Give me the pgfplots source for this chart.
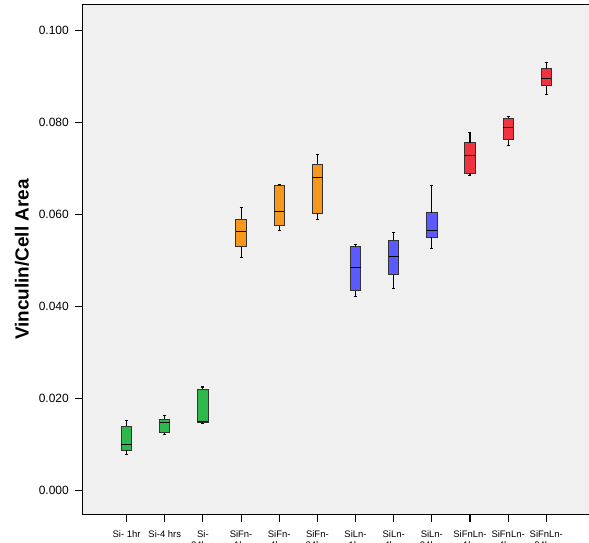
\documentclass[border=0pt]{standalone}
\usepackage{pgfplots}
\pgfplotsset{compat=1.18}
\usepackage{fontspec}
\setmainfont{Liberation Sans}
\definecolor{bgray}{HTML}{F0F0F0}
\definecolor{cgreen}{HTML}{2DB84B}
\definecolor{corange}{HTML}{F7981D}
\definecolor{cblue}{HTML}{5A5AFF}
\definecolor{cred}{HTML}{F0343F}
% #1 position, #2 lower whisker, #3 lower quartile, #4 median, #5 upper quartile, #6 upper whisker, #7 colour
\newcommand{\bxp}[7]{%
  \pgfmathsetmacro\bxl{#1-0.135}\pgfmathsetmacro\bxr{#1+0.135}%
  \pgfmathsetmacro\bcl{#1-0.04}\pgfmathsetmacro\bcr{#1+0.04}%
  \addplot[fill=#7, draw=black!80, line width=0.9pt] coordinates {(\bxl,#3) (\bxr,#3) (\bxr,#5) (\bxl,#5)} -- cycle;
  \addplot[black, line width=1.1pt, unbounded coords=jump] coordinates {(#1,#5) (#1,#6) (#1,nan) (\bcl,#6) (\bcr,#6) (#1,nan) (#1,#3) (#1,#2) (#1,nan) (\bcl,#2) (\bcr,#2)};
  \addplot[black, line width=0.8pt] coordinates {(\bxl,#4) (\bxr,#4)};
}
\begin{document}
\begin{tikzpicture}
\begin{axis}[
  scale only axis,
  width=506bp, height=509bp,
  xmin=-1.15, xmax=12.12,
  ymin=-0.0052, ymax=0.1056,
  axis background/.style={fill=bgray},
  axis line style={black, line width=1pt},
  xtick={0,1,2,3,4,5,6,7,8,9,10,11},
  xticklabels={Si- 1hr, Si-4 hrs, {Si-\\24hrs}, {SiFn-\\1hr}, {SiFn-\\4hrs}, {SiFn-\\24hrs}, {SiLn-\\1hr}, {SiLn-\\4hrs}, {SiLn-\\24hrs}, {SiFnLn-\\1hr}, {SiFnLn-\\4hrs}, {SiFnLn-\\24hrs}},
  xticklabel style={font=\fontsize{9.5}{10.5}\selectfont, align=center, anchor=north, yshift=-5.5bp},
  ytick={0,0.02,0.04,0.06,0.08,0.1},
  scaled y ticks=false,
  yticklabel style={/pgf/number format/fixed, /pgf/number format/fixed zerofill, /pgf/number format/precision=3, font=\fontsize{12}{14}\selectfont, xshift=-3bp},
  /pgf/number format/assume math mode=true,
  tick align=outside,
  tick pos=left,
  major tick length=7.5bp,
  every tick/.append style={draw=black, line width=1.1pt},
  ylabel={\bfseries Vinculin/Cell Area},
  ylabel style={font=\fontsize{19}{22}\selectfont},
  ylabel shift=3bp,
]
\coordinate (ll) at (rel axis cs:0,0);
\coordinate (ur) at (rel axis cs:1,1);
\bxp{0}{0.00777}{0.00871}{0.01001}{0.01393}{0.01524}{cgreen}
\bxp{1}{0.01213}{0.01256}{0.01474}{0.01546}{0.01633}{cgreen}
\bxp{2}{0.01459}{0.01480}{0.01502}{0.02199}{0.02249}{cgreen}
\bxp{3}{0.05066}{0.05297}{0.05624}{0.05894}{0.06146}{corange}
\bxp{4}{0.05645}{0.05754}{0.06059}{0.06634}{0.06656}{corange}
\bxp{5}{0.05894}{0.06024}{0.06808}{0.07091}{0.07300}{corange}
\bxp{6}{0.04224}{0.04339}{0.04849}{0.05297}{0.05349}{cblue}
\bxp{7}{0.04391}{0.04696}{0.05088}{0.05443}{0.05617}{cblue}
\bxp{8}{0.05254}{0.05502}{0.05661}{0.06037}{0.06625}{cblue}
\bxp{9}{0.06858}{0.06895}{0.07287}{0.07562}{0.07779}{cred}
\bxp{10}{0.07511}{0.07627}{0.07897}{0.08099}{0.08128}{cred}
\bxp{11}{0.08615}{0.08803}{0.08955}{0.09173}{0.09303}{cred}
\end{axis}
\pgfresetboundingbox
\useasboundingbox ([xshift=-82.7bp,yshift=-28bp]ll) rectangle ([yshift=5bp]ur);
\end{tikzpicture}
\end{document}
